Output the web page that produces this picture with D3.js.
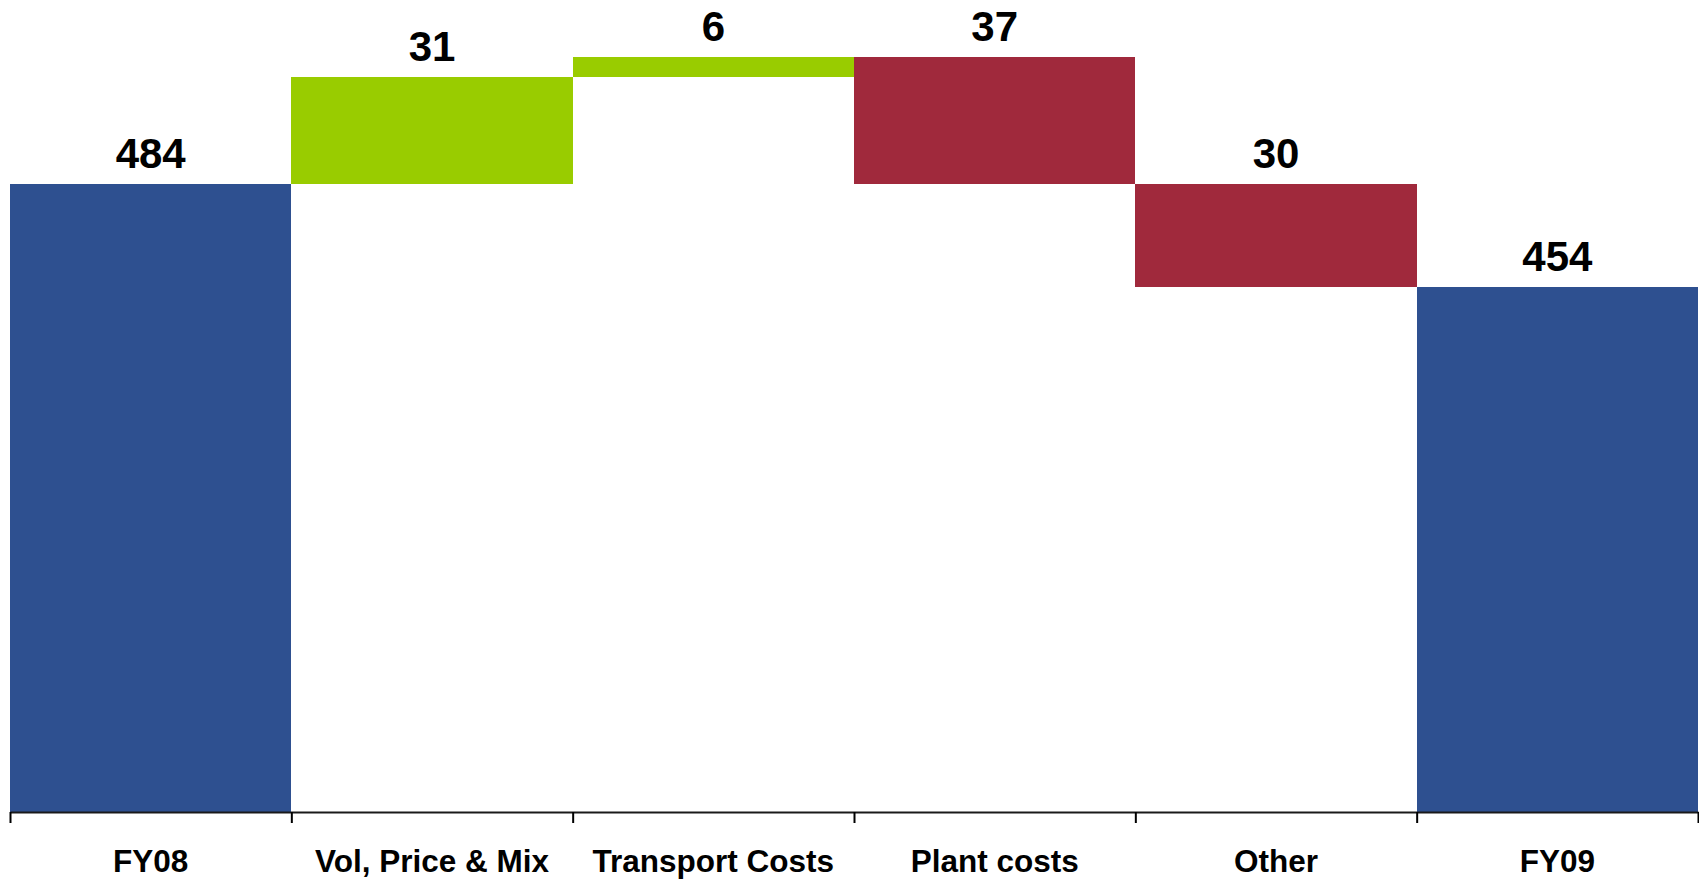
<!DOCTYPE html>
<html>
<head>
<meta charset="utf-8">
<script src="https://cdn.jsdelivr.net/npm/d3@7"></script>
<style>
  html, body { margin: 0; padding: 0; background: #ffffff; }
  svg { display: block; }
  text { font-family: "Liberation Sans", Arial, Helvetica, sans-serif; font-weight: bold; fill: #000; }
</style>
</head>
<body>
<svg id="chart" width="1699" height="880"></svg>
<script>
// Bridge from FY08 to FY09
const categories = ["FY08", "Vol, Price & Mix", "Transport Costs", "Plant costs", "Other", "FY09"];
const values = [484, 31, 6, -37, -30, 454];
const kinds = ["total", "delta", "delta", "delta", "delta", "total"];
const valueLabels = ["484", "31", "6", "37", "30", "454"];

const colors = { total: "#2E5090", up: "#99CC00", down: "#A0293C" };

const width = 1699, height = 880;
const plot = { left: 10, right: 1698, top: 0, bottom: 812 };

// running totals: each step floats from the previous level
let level = 0;
const steps = categories.map((c, i) => {
  let start, end;
  if (kinds[i] === "total") { start = 0; end = values[i]; level = values[i]; }
  else { start = level; end = level + values[i]; level = end; }
  return { cat: c, start, end, kind: kinds[i], label: valueLabels[i], value: values[i] };
});

const svg = d3.select("#chart");

const x = d3.scaleBand().domain(categories).range([plot.left, plot.right]).paddingInner(0).paddingOuter(0);
const y = d3.scaleLinear().domain([301, 537.5]).range([plot.bottom, plot.top]);
const clampY = v => y(Math.max(v, y.domain()[0]));

function fillFor(d) {
  if (d.kind === "total") return colors.total;
  return d.value >= 0 ? colors.up : colors.down;
}

svg.append("g").selectAll("rect")
  .data(steps)
  .join("rect")
  .attr("x", d => x(d.cat))
  .attr("width", x.bandwidth())
  .attr("y", d => clampY(Math.max(d.start, d.end)))
  .attr("height", d => clampY(Math.min(d.start, d.end)) - clampY(Math.max(d.start, d.end)))
  .attr("fill", fillFor)
  .attr("shape-rendering", "crispEdges");

// value labels above each bar's upper edge
svg.append("g").selectAll("text")
  .data(steps)
  .join("text")
  .attr("x", d => x(d.cat) + x.bandwidth() / 2)
  .attr("y", d => y(Math.max(d.start, d.end)) - 16)
  .attr("text-anchor", "middle")
  .style("font-size", "42px")
  .text(d => d.label);

// axis line with ticks on the band boundaries
const edge = d3.scaleLinear().domain([0, categories.length]).range([plot.left, plot.right]);
const tickAxis = svg.append("g")
  .attr("transform", `translate(0,${plot.bottom})`)
  .call(d3.axisBottom(edge).tickValues(d3.range(categories.length + 1)).tickFormat("").tickSize(11).tickSizeOuter(0));
tickAxis.select(".domain").attr("stroke", "#1a1a1a").attr("stroke-width", 2);
tickAxis.selectAll(".tick line").attr("stroke", "#000").attr("stroke-width", 2);

// category labels
const labelAxis = svg.append("g")
  .attr("transform", `translate(0,${plot.bottom})`)
  .call(d3.axisBottom(x).tickSize(0).tickPadding(38));
labelAxis.select(".domain").remove();
labelAxis.selectAll(".tick text")
  .style("font-size", "31.5px")
  .style("font-family", "\"Liberation Sans\", Arial, sans-serif")
  .style("font-weight", "bold")
  .attr("fill", "#000");
</script>
</body>
</html>
